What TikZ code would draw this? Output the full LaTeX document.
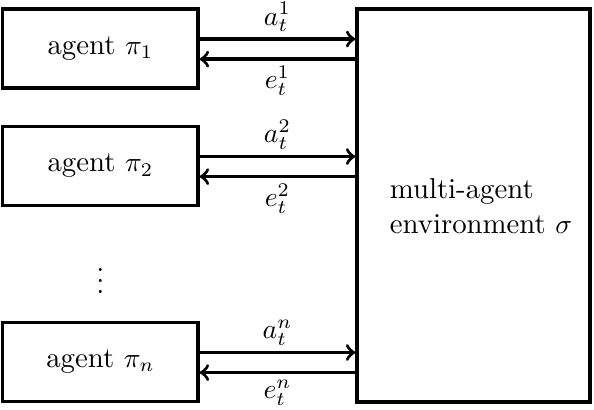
\documentclass[tikz,border=0pt]{standalone}
\usepackage{times}
\begin{document}
\begin{tikzpicture}[>=to,x=1.0cm,y=1.0cm,line width=1.2pt,font=\fontsize{10.4}{12.6}\selectfont,
		agentbox/.style={draw,minimum width=2.48cm,minimum height=1.0cm,inner sep=0pt}]
	\useasboundingbox (0,0) rectangle (7.544,-5.207);
	\node[agentbox] (ag1) at (1.276,-0.616) {agent $\pi_1$};
	\node[agentbox] (ag2) at (1.276,-2.108) {agent $\pi_2$};
	\node[agentbox] (agn) at (1.276,-4.597) {agent $\pi_n$};
	\node[draw,minimum width=2.96cm,minimum height=4.99cm,inner sep=0pt] (env) at (6.013,-2.610) {};
	\node[align=left,anchor=west,inner sep=0pt] (envtxt) at (4.93,-2.62) {multi-agent\\environment $\sigma$};
	\node (dots) at (1.276,-3.46) {$\vdots$};
	\foreach \a/\i in {ag1/1,ag2/2,agn/n}{
		\draw[->] ([yshift=0.12cm]\a.east) -- ([yshift=0.12cm]\a.east -| env.west) node[midway,above,inner sep=2pt]{$a_t^\i$};
		\draw[->] ([yshift=-0.135cm]\a.east -| env.west) -- ([yshift=-0.135cm]\a.east) node[midway,below,inner sep=2pt]{$e_t^\i$};
	}
\end{tikzpicture}
\end{document}
